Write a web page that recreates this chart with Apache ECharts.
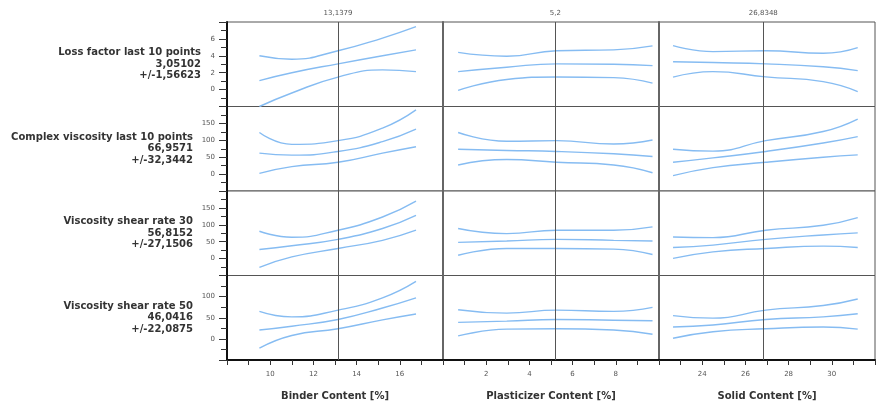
<!DOCTYPE html>
<html>
<head>
<meta charset="utf-8">
<script src="https://cdn.jsdelivr.net/npm/echarts@6/dist/echarts.min.js"></script>
<style>html,body{margin:0;padding:0;background:#fff}#c{width:876px;height:403px}</style>
</head>
<body>
<div id="c"></div>
<script>
// ---- Data ----
const rowNames = ['Loss factor last 10 points', 'Complex viscosity last 10 points', 'Viscosity shear rate 30', 'Viscosity shear rate 50'];
const rowMeans = ['3,05102', '66,9571', '56,8152', '46,0416'];
const rowCIs = ['+/-1,56623', '+/-32,3442', '+/-27,1506', '+/-22,0875'];
const colNames = ['Binder Content [%]', 'Plasticizer Content [%]', 'Solid Content [%]'];
const colCurrent = [13.1379, 5.2, 26.8348];
const colCurrentLabel = ['13,1379', '5,2', '26,8348'];
const colMin = [8, 0, 22];
const colMax = [18, 10, 32];
const rowMin = [-2, -50, -50, -50];
const rowMax = [8, 200, 200, 150];
const rowInterval = [2, 50, 50, 50];

const binderX = [9.5, 11, 13.14, 15.2, 16.75];
const plastX = [0.7, 2.95, 5.26, 7.9, 9.7];
const solidX = [22.65, 24.5, 26.94, 29.6, 31.2];

// each: [upper, mean, lower]
const lossBinder = [[4.0, 3.6, 4.6, 6.1, 7.45], [1.07, 2.0, 3.05, 4.0, 4.7], [-2.0, -0.4, 1.48, 2.33, 2.13]];
const lossPlast = [[4.4, 3.95, 4.6, 4.7, 5.17], [2.13, 2.65, 3.05, 3.0, 2.84], [-0.1, 1.2, 1.5, 1.42, 0.76]];
const lossSolid = [[5.2, 4.5, 4.6, 4.3, 4.97], [3.3, 3.2, 3.05, 2.7, 2.25], [1.47, 2.13, 1.5, 0.95, -0.23]];

const cvBinder = [[123, 88, 99, 136, 190], [62, 56, 67, 96, 133], [2, 22, 35, 62, 81]];
const cvPlast = [[123, 97, 99, 89, 101], [73.5, 70, 67, 60, 52], [27, 43, 35, 27, 4]];
const cvSolid = [[73.5, 68, 99, 126, 163], [35, 48, 67, 92, 111], [-4.7, 19, 35, 50, 57]];

const v30Binder = [[81, 63, 84, 123, 170], [27, 38, 57, 89, 128], [-26, 5, 30, 54, 84]];
const v30Plast = [[89, 74, 84, 84, 94], [48, 52, 57, 54, 52], [10, 30, 30, 28, 12]];
const v30Solid = [[64, 62, 84, 98.5, 121], [33, 40, 57, 70, 76], [0.5, 20, 30, 37, 33]];

const v50Binder = [[65, 52, 68, 97, 136], [21, 30, 46, 73, 97], [-22, 8, 24, 45, 59]];
const v50Plast = [[69, 61, 68, 65, 74.5], [39, 42, 46, 44, 43], [7, 23, 24, 21, 11]];
const v50Solid = [[55, 49, 68, 79, 94.5], [28, 33, 46, 52, 59.5], [1.5, 17, 24, 28, 23]];

const colX = [binderX, plastX, solidX];
const panels = [
  [lossBinder, lossPlast, lossSolid],
  [cvBinder, cvPlast, cvSolid],
  [v30Binder, v30Plast, v30Solid],
  [v50Binder, v50Plast, v50Solid]
];

// ---- Layout ----
const L0 = 227, T0 = 22, CW = 216, RH = 84.5;
const FONT = '"DejaVu Sans", Verdana, sans-serif';
const labelRight = [201, 193, 193, 193];

const option = { animation: false, grid: [], xAxis: [], yAxis: [], series: [], graphic: [] };

for (let r = 0; r < 4; r++) {
  for (let c = 0; c < 3; c++) {
    const idx = r * 3 + c;
    option.grid.push({
      left: L0 + c * CW, top: T0 + r * RH, width: CW, height: RH,
      show: true, borderColor: '#555', borderWidth: 1, backgroundColor: '#fff'
    });
    const bottom = r === 3, left = c === 0;
    option.xAxis.push({
      type: 'value', gridIndex: idx, min: colMin[c], max: colMax[c], interval: 2,
      axisLine: { show: bottom, onZero: false, lineStyle: { color: '#111', width: 2 } },
      axisTick: { show: bottom, length: 5, lineStyle: { color: '#333' } },
      minorTick: { show: bottom, splitNumber: 2, length: 5, lineStyle: { color: '#333' } },
      axisLabel: { show: bottom, fontSize: 7, color: '#555', fontFamily: FONT, margin: 11, showMinLabel: false, showMaxLabel: false },
      splitLine: { show: false },
      name: bottom ? colNames[c] : '', nameLocation: 'middle', nameGap: 31,
      nameTextStyle: { fontWeight: 'bold', fontSize: 10, color: '#333', fontFamily: FONT }
    });
    option.yAxis.push({
      type: 'value', gridIndex: idx, min: rowMin[r], max: rowMax[r], interval: rowInterval[r],
      axisLine: { show: true, onZero: false, lineStyle: { color: left ? '#111' : '#666', width: 2 } },
      axisTick: { show: left, length: 8, lineStyle: { color: '#333' } },
      minorTick: { show: left, splitNumber: 2, length: 6, lineStyle: { color: '#333' } },
      axisLabel: { show: left, fontSize: 7, color: '#555', fontFamily: FONT, margin: 12, showMinLabel: false, showMaxLabel: false },
      splitLine: { show: false }
    });
    const curves = panels[r][c];
    const xs = colX[c];
    curves.forEach((vals, k) => {
      const s = {
        type: 'line', xAxisIndex: idx, yAxisIndex: idx, silent: true,
        data: xs.map((x, i) => [x, vals[i]]),
        smooth: true, showSymbol: false,
        lineStyle: { color: '#86bcf2', width: 1.4 }
      };
      if (k === 0) {
        s.markLine = {
          symbol: 'none', silent: true, animation: false,
          lineStyle: { color: '#555', width: 1, type: 'solid' },
          label: { show: r === 0, position: 'end', formatter: colCurrentLabel[c], fontSize: 7, color: '#555', fontFamily: FONT, distance: 5 },
          data: [{ xAxis: colCurrent[c] }]
        };
      }
      option.series.push(s);
    });
  }
  option.graphic.push({
    type: 'text', x: labelRight[r], y: T0 + r * RH + RH / 2,
    style: {
      text: rowNames[r] + '\n' + rowMeans[r] + '\n' + rowCIs[r],
      align: 'right', verticalAlign: 'middle', lineHeight: 11.5,
      font: 'bold 10px ' + FONT, fill: '#333'
    }
  });
}

const chart = echarts.init(document.getElementById('c'), null, { renderer: 'canvas' });
chart.setOption(option);
</script>
</body>
</html>
